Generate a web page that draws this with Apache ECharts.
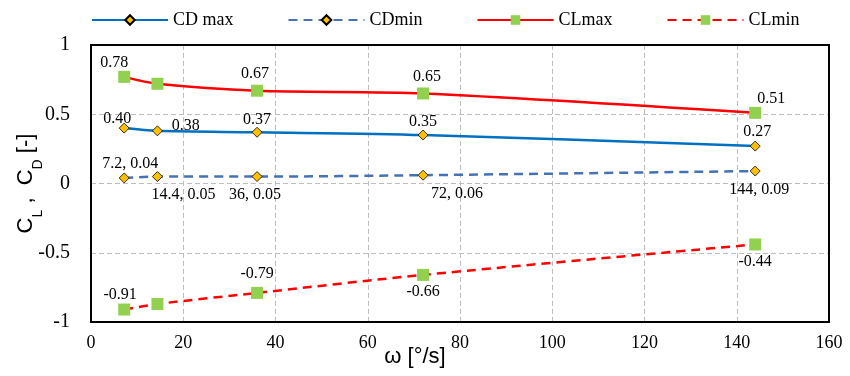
<!DOCTYPE html>
<html><head><meta charset="utf-8">
<script src="https://cdn.jsdelivr.net/npm/echarts@6/dist/echarts.min.js"></script>
<style>html,body{margin:0;padding:0;background:#fff}#c{width:850px;height:376px}</style>
</head><body><div id="c"></div>
<script>
const omega = [7.2, 14.4, 36, 72, 144];
const cdMax = [0.40, 0.38, 0.37, 0.35, 0.27];
const cdMin = [0.04, 0.05, 0.05, 0.06, 0.09];
const clMax = [0.77, 0.72, 0.67, 0.65, 0.51];
const clMin = [-0.91, -0.87, -0.79, -0.66, -0.44];
const clMaxLabels = ['0.78', '', '0.67', '0.65', '0.51'];
const cdMaxLabels = ['0.40', '0.38', '0.37', '0.35', '0.27'];
const cdMinLabels = ['7.2, 0.04', '14.4, 0.05', '36, 0.05', '72, 0.06', '144, 0.09'];
const clMinLabels = ['-0.91', '', '-0.79', '-0.66', '-0.44'];
const xTicks = [0, 20, 40, 60, 80, 100, 120, 140, 160];
const yTicks = [-1, -0.5, 0, 0.5, 1];

const SERIF = 'Liberation Serif';
const lblBase = {show: true, color: '#000', fontFamily: SERIF, fontSize: 16};

// label placement (position, offset) per point
const clMaxPos = [['top', [-10, 3]], null, ['top', [-2, 0]], ['top', [4, 0]], ['top', [16, 3]]];
const cdMaxPos = [['top', [-7, 7]], ['right', [6, -5]], ['top', [0, 4]], ['top', [0, 3]], ['top', [2, 2]]];
const cdMinPos = [['top', [6, 2]], ['bottom', [26, 2]], ['bottom', [-2, 2]], ['bottom', [34, 2]], ['bottom', [4, 2]]];
const clMinPos = [['top', [-4, 2]], null, ['top', [0, -2]], ['bottom', [0, 0]], ['bottom', [0, 0]]];

function build(vals, labels, pos) {
  return vals.map((v, i) => {
    const d = {value: [omega[i], v]};
    if (pos[i] && labels[i]) {
      d.label = Object.assign({}, lblBase, {position: pos[i][0], offset: pos[i][1], formatter: labels[i], distance: 3});
    } else {
      d.label = {show: false};
    }
    return d;
  });
}

const chart = echarts.init(document.getElementById('c'), null, {renderer: 'canvas'});
const diamond = {symbol: 'diamond', symbolSize: 10, itemStyle: {color: '#FFC000', borderColor: '#000', borderWidth: 0.8}};
const square = {symbol: 'rect', symbolSize: 12, itemStyle: {color: '#92D050', borderWidth: 0}};
const gridLine = {show: true, lineStyle: {color: '#bdbdbd', type: [5, 3], width: 1}};
const frameLine = {show: true, onZero: false, lineStyle: {color: '#000', width: 2}};

chart.setOption({
  animation: false,
  backgroundColor: '#fff',
  legend: {
    top: 6, left: 86, itemGap: 54, itemWidth: 76, itemHeight: 12,
    textStyle: {fontFamily: SERIF, fontSize: 18, color: '#000'},
    data: ['CD max', 'CDmin', 'CLmax', 'CLmin']
  },
  grid: {left: 91, right: 21, top: 45, bottom: 54, outerBoundsMode: 'none', containLabel: false},
  xAxis: [{
    type: 'value', min: 0, max: 160, interval: 20, position: 'bottom',
    axisLine: frameLine, axisTick: {show: false},
    splitLine: gridLine,
    axisLabel: {fontFamily: SERIF, fontSize: 18, color: '#000', margin: 12},
    name: 'ω [°/s]', nameLocation: 'middle', nameGap: 24, nameMoveOverlap: false,
    nameTextStyle: {fontFamily: 'Liberation Sans', fontSize: 22, color: '#000', padding: [0, 90, 0, 0]}
  }, {
    type: 'value', min: 0, max: 160, interval: 20, position: 'top',
    axisLine: frameLine, axisTick: {show: false}, axisLabel: {show: false}, splitLine: {show: false}
  }],
  yAxis: [{
    type: 'value', min: -1, max: 1, interval: 0.5, position: 'left',
    axisLine: frameLine, axisTick: {show: false},
    splitLine: gridLine,
    axisLabel: {fontFamily: SERIF, fontSize: 20, color: '#000', margin: 21},
    name: '{m|C}{s|L}{m| ,  C}{s|D}{m| [-]}', nameLocation: 'middle', nameGap: 54, nameMoveOverlap: false,
    nameTextStyle: {
      color: '#000',
      rich: {
        m: {fontFamily: 'Liberation Sans', fontSize: 22, color: '#000', lineHeight: 24, verticalAlign: 'bottom'},
        s: {fontFamily: 'Liberation Sans', fontSize: 14, color: '#000', lineHeight: 24, verticalAlign: 'bottom', padding: [0, 0, -8, 0]}
      }
    }
  }, {
    type: 'value', min: -1, max: 1, interval: 0.5, position: 'right',
    axisLine: frameLine, axisTick: {show: false}, axisLabel: {show: false}, splitLine: {show: false}
  }],
  series: [
    Object.assign({name: 'CD max', type: 'line', smooth: 0.3, data: build(cdMax, cdMaxLabels, cdMaxPos),
      lineStyle: {color: '#0070C0', width: 2.5}, color: '#0070C0', z: 3}, diamond),
    Object.assign({name: 'CDmin', type: 'line', smooth: 0.3, data: build(cdMin, cdMinLabels, cdMinPos),
      lineStyle: {color: '#4472B4', width: 2.5, type: [9, 6]}, color: '#4472B4', z: 3}, diamond),
    Object.assign({name: 'CLmax', type: 'line', smooth: 0.3, data: build(clMax, clMaxLabels, clMaxPos),
      lineStyle: {color: '#FF0000', width: 2.5}, color: '#FF0000', z: 2}, square),
    Object.assign({name: 'CLmin', type: 'line', smooth: 0.3, data: build(clMin, clMinLabels, clMinPos),
      lineStyle: {color: '#FF0000', width: 2.5, type: [9, 6]}, color: '#FF0000', z: 2}, square)
  ]
});
</script></body></html>
